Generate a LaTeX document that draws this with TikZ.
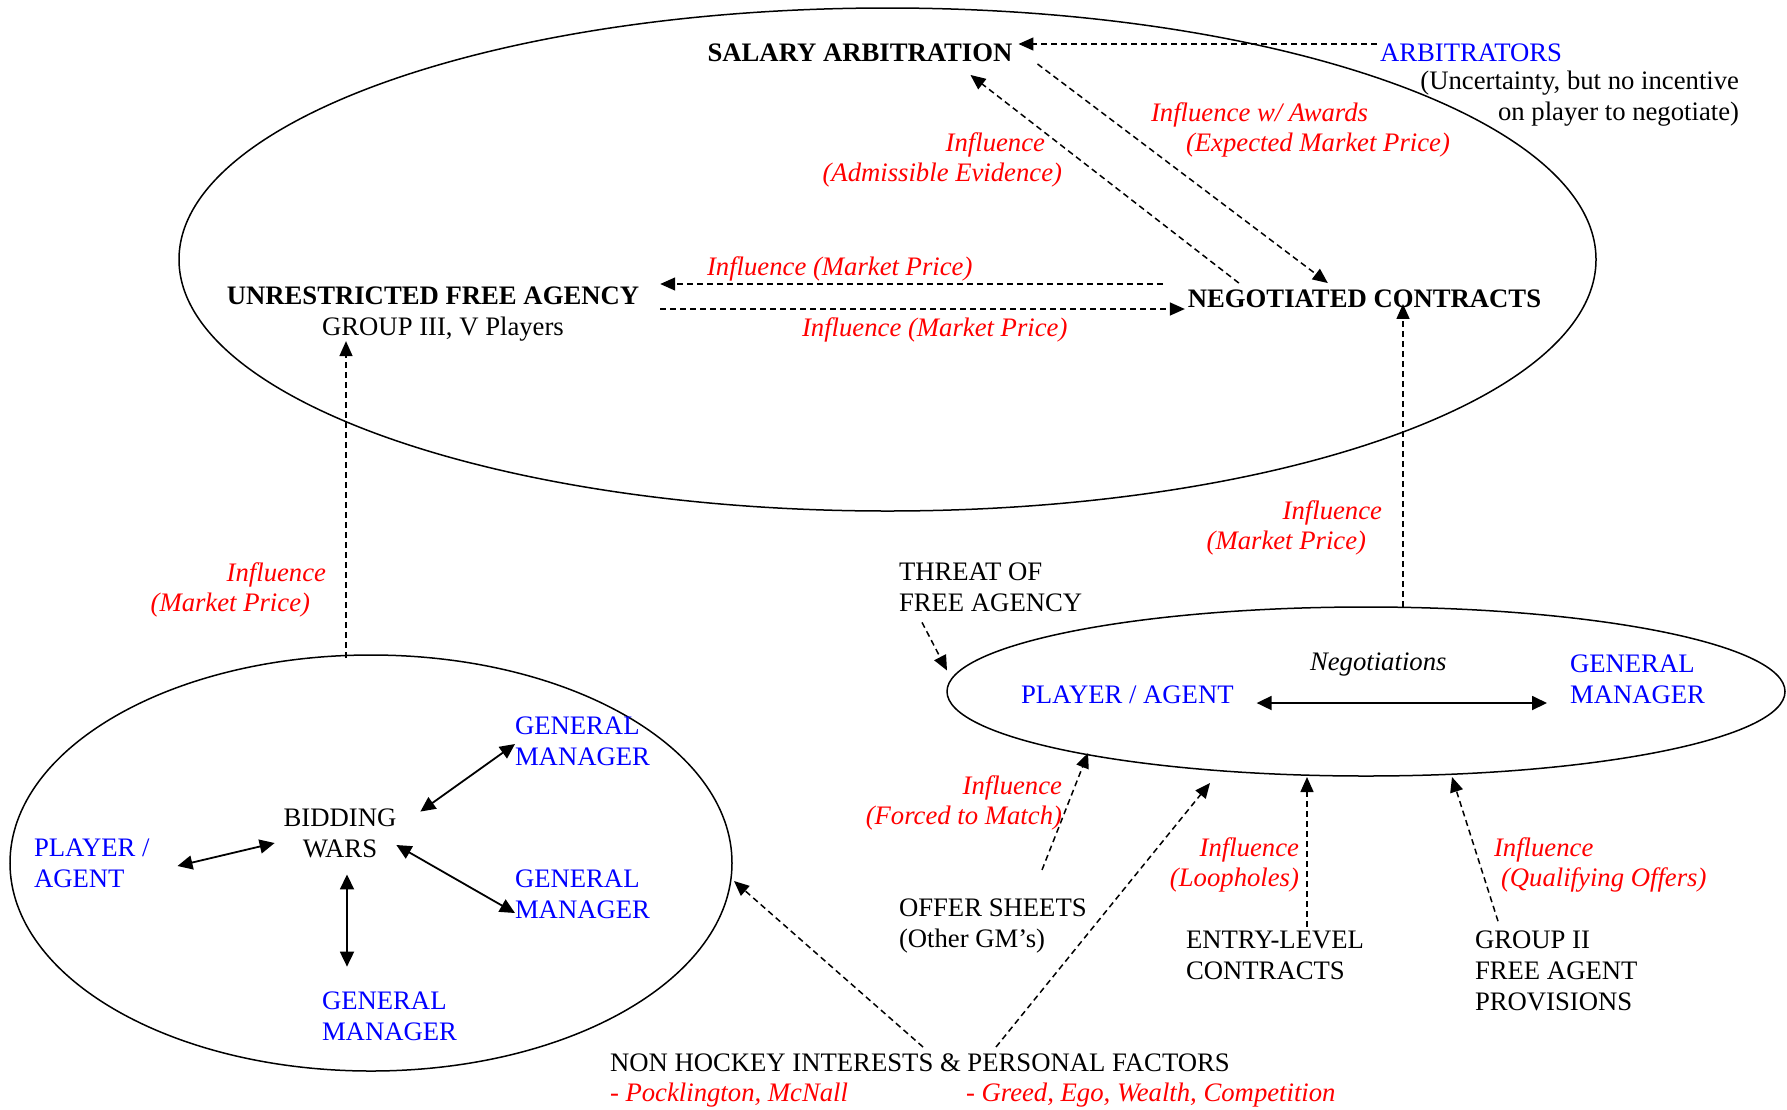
\documentclass[tikz,border=0pt]{standalone}
\usepackage{fontspec}
\setmainfont{Liberation Serif}
\usetikzlibrary{arrows.meta,calc,shapes.geometric}
\begin{document}
\begin{tikzpicture}[x=0.5pt,y=-0.5pt,
  every node/.style={inner sep=0pt, outer sep=0pt, font=\fontsize{13.35}{15.4}\selectfont},
  act/.style={text=blue},
  infl/.style={text=red, font=\fontsize{13.35}{15.4}\selectfont\itshape},
  ttl/.style={font=\fontsize{13.35}{15.4}\selectfont\bfseries},
  oval/.style={draw, ellipse, line width=0.75pt},
  dar/.style={-{Triangle[length=7.5pt,width=6.5pt]}, dash pattern=on 3pt off 2pt, line width=0.75pt},
  sar/.style={{Triangle[length=7.5pt,width=7pt]}-{Triangle[length=7.5pt,width=7pt]}, line width=0.9pt},
]
\useasboundingbox (0,0) rectangle (1787,1109);

% ellipses
\node[oval, minimum width=708.5pt, minimum height=251.5pt] (market) at (887.5,259.5) {};
\node[oval, minimum width=361pt, minimum height=208pt] (bid) at (371,863) {};
\node[oval, minimum width=419pt, minimum height=84.5pt] (nego) at (1366,691.5) {};

\begin{scope}[yshift=-1.5pt]
% upper texts
\node[ttl] (sal) at (860,50) {SALARY ARBITRATION};
\node[act, anchor=west] (arb) at (1380,50) {ARBITRATORS};
\node[anchor=east, align=right] (unc) at (1739,96) {(Uncertainty, but no incentive\\on player to negotiate)};
\node[infl, anchor=west, align=left] (iaw) at (1151,127) {Influence w/ Awards\\\hspace*{17.5pt}(Expected Market Price)};
\node[infl, anchor=east, align=right] (iae) at (1062,157) {Influence\hspace*{8.5pt}\\(Admissible Evidence)};
\node[infl, anchor=west] (imp1) at (707,266) {Influence (Market Price)};
\node[align=center] (ufa) at (433,311) {{\bfseries UNRESTRICTED FREE AGENCY}\\\hspace*{10pt}GROUP III, V Players};
\node[ttl] (neg) at (1364.5,296) {NEGOTIATED CONTRACTS};
\node[infl, anchor=west] (imp2) at (802,327) {Influence (Market Price)};
\node[infl, anchor=east, align=right] (imp3) at (1382,525) {Influence\\(Market Price)\hspace*{8pt}};
\node[infl, anchor=east, align=right] (imp4) at (326,587) {Influence\\(Market Price)\hspace*{8pt}};

% right ellipse
\node[anchor=west, align=left] (thr) at (899,584) {THREAT OF\\FREE AGENCY};
\node[act, anchor=west] (ppa) at (1021,692) {PLAYER / AGENT};
\node[font=\fontsize{13.35}{15.4}\selectfont\itshape, anchor=west] (ngt) at (1310,661) {Negotiations};
\node[act, anchor=west, align=left] (gm0) at (1570,676) {GENERAL\\MANAGER};
\node[infl, anchor=east, align=right] (ifm) at (1062,800) {Influence\\(Forced to Match)};
\node[anchor=west, align=left] (off) at (899,923) {OFFER SHEETS\\(Other GM’s)};
\node[infl, anchor=east, align=right] (ilh) at (1299,862) {Influence\\(Loopholes)};
\node[anchor=west, align=left] (ent) at (1186,952) {ENTRY-LEVEL\\CONTRACTS};
\node[infl, anchor=west, align=left] (iqo) at (1494,862) {Influence\\\hspace*{3.5pt}(Qualifying Offers)};
\node[anchor=west, align=left] (grp) at (1475,968) {GROUP II\\FREE AGENT\\PROVISIONS};

% bidding wars
\node[act, anchor=west, align=left] (pa2) at (34,860) {PLAYER /\\AGENT};
\node[align=center] (bw) at (340,830) {BIDDING\\WARS};
\node[act, anchor=west, align=left] (gm1) at (515,738) {GENERAL\\MANAGER};
\node[act, anchor=west, align=left] (gm2) at (515,891) {GENERAL\\MANAGER};
\node[act, anchor=west, align=left] (gm3) at (322,1013) {GENERAL\\MANAGER};

% bottom
\node[anchor=west] (non) at (610,1060) {NON HOCKEY INTERESTS \& PERSONAL FACTORS};
\node[infl, anchor=west] (pck) at (610,1092) {- Pocklington, McNall};
\node[infl, anchor=west] (grd) at (966,1092) {- Greed, Ego, Wealth, Competition};
\end{scope}

% dashed connectors
\draw[dar] ($(arb.west)+(-3,-9)$) -- ($(sal.east |- arb.west)+(6,-9)$);
\draw[dar] ($(neg.north west)+(51,-7)$) -- ($(sal.south east)+(-42,13)$);
\draw[dar] ($(sal.south east)+(25,2)$) -- ($(neg.north west)+(140,-7)$);
\coordinate (a4) at ($(neg.west)+(-25,-15)$);
\draw[dar] (a4) -- ($(ufa.east |- a4)+(21,0)$);
\coordinate (a5) at ($(ufa.east)+(21,-5)$);
\draw[dar] (a5) -- ($(neg.west |- a5)+(-3,0)$);
\coordinate (a6) at ($(nego.north)+(37,0)$);
\draw[dar] (a6) -- ($(neg.south -| a6)+(0,-4)$);
\coordinate (a7) at ($(bid.north)+(-25,3)$);
\draw[dar] (a7) -- (ufa.south -| a7);
\draw[dar] ($(thr.south west)+(23,11)$) -- ($(nego.west)+(0,-21)$);
\draw[dar] ($(off.north west)+(143,-29)$) -- ($(nego.south)+(-278,-23)$);
\draw[dar] ($(non.north west)+(313,-7)$) -- ($(bid.east)+(2,18)$);
\draw[dar] ($(non.north west)+(386,-7)$) -- ($(nego.south)+(-156,7)$);
\coordinate (a13) at ($(ent.north west)+(121,-4)$);
\draw[dar] (a13) -- ($(nego.south -| a13)+(0,1)$);
\draw[dar] ($(grp.north west)+(23,-10)$) -- ($(nego.south)+(86,1)$);

% solid connectors
\coordinate (a9) at ($(ppa.east)+(23,8)$);
\draw[sar] (a9) -- ($(gm0.west |- a9)+(-23,0)$);
\draw[sar] ($(bw.west)+(-9,10)$) -- ($(pa2.east)+(28,3)$);
\draw[sar] ($(bw.north east)+(24,3)$) -- ($(gm1.west)+(0,3)$);
\draw[sar] ($(bw.east)+(0,12)$) -- ($(gm2.west)+(0,19)$);
\coordinate (b4) at ($(bw.south)+(7,17)$);
\draw[sar] (b4) -- ($(gm3.north -| b4)+(0,-25)$);
\end{tikzpicture}
\end{document}
